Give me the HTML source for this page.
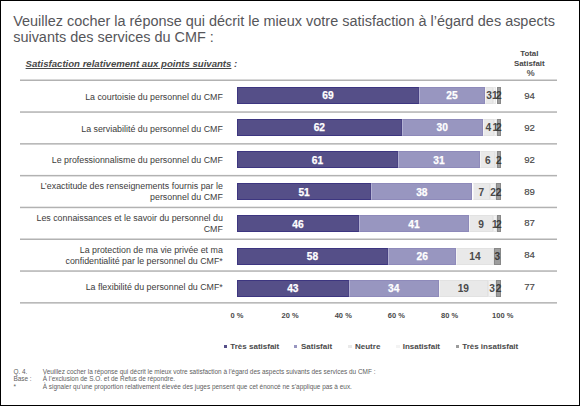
<!DOCTYPE html><html><head><meta charset="utf-8"><style>
html,body{margin:0;padding:0;}
body{width:580px;height:406px;position:relative;overflow:hidden;background:#fff;font-family:"Liberation Sans",sans-serif;}
#frame{position:absolute;left:0;top:0;width:578px;height:404px;border:1px solid #000;}
.seg{position:absolute;box-sizing:border-box;}
.ln{position:absolute;left:20px;width:536.5px;height:1px;background:#c4c4c4;}
</style></head><body><div id="frame"></div>
<div style="position:absolute;left:13.2px;top:12.92px;font-size:14.45px;line-height:17.34px;color:#56565a;font-weight:normal;font-style:normal;white-space:nowrap;">Veuillez cocher la réponse qui décrit le mieux votre satisfaction à l’égard des aspects</div>
<div style="position:absolute;left:13.2px;top:29.12px;font-size:14.45px;line-height:17.34px;color:#56565a;font-weight:normal;font-style:normal;white-space:nowrap;">suivants des services du CMF :</div>
<div style="position:absolute;left:25.6px;top:57.61px;font-size:9.6px;line-height:11.52px;color:#484848;font-weight:bold;font-style:italic;white-space:nowrap;"><span style="text-decoration:underline;">Satisfaction relativement aux points suivants</span> :</div>
<div style="position:absolute;left:499.29999999999995px;width:60px;text-align:center;top:48.92px;font-size:7.9px;line-height:9.48px;color:#484848;font-weight:bold;font-style:normal;white-space:nowrap;">Total</div>
<div style="position:absolute;left:499.29999999999995px;width:60px;text-align:center;top:58.52px;font-size:7.9px;line-height:9.48px;color:#484848;font-weight:bold;font-style:normal;white-space:nowrap;">Satisfait</div>
<div style="position:absolute;left:500.6px;width:60px;text-align:center;top:67.97px;font-size:8.8px;line-height:10.56px;color:#484848;font-weight:normal;font-style:normal;white-space:nowrap;-webkit-text-stroke:0.2px #484848;">%</div>
<div class="ln" style="top:79px;background:rgb(216,216,216);"></div>
<div class="ln" style="top:80px;background:rgb(178,178,178);"></div>
<div class="ln" style="top:111px;background:rgb(201,201,201);"></div>
<div class="ln" style="top:112px;background:rgb(193,193,193);"></div>
<div class="ln" style="top:143px;background:rgb(186,186,186);"></div>
<div class="ln" style="top:144px;background:rgb(209,209,209);"></div>
<div class="ln" style="top:174px;background:rgb(247,247,247);"></div>
<div class="ln" style="top:175px;background:rgb(178,178,178);"></div>
<div class="ln" style="top:176px;background:rgb(224,224,224);"></div>
<div class="ln" style="top:206px;background:rgb(232,232,232);"></div>
<div class="ln" style="top:207px;background:rgb(178,178,178);"></div>
<div class="ln" style="top:208px;background:rgb(240,240,240);"></div>
<div class="ln" style="top:238px;background:rgb(216,216,216);"></div>
<div class="ln" style="top:239px;background:rgb(178,178,178);"></div>
<div class="ln" style="top:270px;background:rgb(201,201,201);"></div>
<div class="ln" style="top:271px;background:rgb(193,193,193);"></div>
<div class="ln" style="top:302px;background:rgb(186,186,186);"></div>
<div class="ln" style="top:303px;background:rgb(209,209,209);"></div>
<div style="position:absolute;right:357.2px;top:91.90px;font-size:8.85px;line-height:10.62px;color:#3c3c3c;font-weight:normal;font-style:normal;white-space:nowrap;">La courtoisie du personnel du CMF</div>
<div class="seg" style="left:237.00px;top:86.70px;width:182.00px;height:17.0px;background:#554f88;border:1px solid #3d3680;border-right-color:#4a4384;"></div>
<div class="seg" style="left:419.00px;top:86.70px;width:66.00px;height:17.0px;background:#9896c0;border:1px solid #8e8aba;border-left-color:#b3b1d3;"></div>
<div class="seg" style="left:485.00px;top:86.70px;width:8.40px;height:17.0px;background:#e9e9e9;border:1px solid #e2e2e2;border-left-color:#f4f4f4;"></div>
<div class="seg" style="left:493.40px;top:86.70px;width:3.10px;height:17.0px;background:#f3f3f3;border:1px solid #e8e8e8;"></div>
<div class="seg" style="left:496.50px;top:86.70px;width:4.50px;height:17.0px;background:#9c9c9c;border:1px solid #888888;"></div>
<div style="position:absolute;left:313.0px;width:30px;text-align:center;top:90.25px;font-size:10.2px;line-height:12.24px;color:#ffffff;font-weight:bold;font-style:normal;white-space:nowrap;-webkit-text-stroke:0.25px #fff;">69</div>
<div style="position:absolute;left:437.0px;width:30px;text-align:center;top:90.25px;font-size:10.2px;line-height:12.24px;color:#ffffff;font-weight:bold;font-style:normal;white-space:nowrap;-webkit-text-stroke:0.25px #fff;">25</div>
<div style="position:absolute;left:474.2px;width:30px;text-align:center;top:90.25px;font-size:10.2px;line-height:12.24px;color:#4a4a4a;font-weight:bold;font-style:normal;white-space:nowrap;">3</div>
<div style="position:absolute;left:479.95px;width:30px;text-align:center;top:90.25px;font-size:10.2px;line-height:12.24px;color:#4a4a4a;font-weight:bold;font-style:normal;white-space:nowrap;">1</div>
<div style="position:absolute;left:483.75px;width:30px;text-align:center;top:90.25px;font-size:10.2px;line-height:12.24px;color:#3a3a3a;font-weight:bold;font-style:normal;white-space:nowrap;">2</div>
<div style="position:absolute;left:509.6px;width:40px;text-align:center;top:90.41px;font-size:9.6px;line-height:11.52px;color:#454545;font-weight:normal;font-style:normal;white-space:nowrap;-webkit-text-stroke:0.15px #454545;">94</div>
<div style="position:absolute;right:357.2px;top:123.56px;font-size:8.85px;line-height:10.62px;color:#3c3c3c;font-weight:normal;font-style:normal;white-space:nowrap;">La serviabilité du personnel du CMF</div>
<div class="seg" style="left:237.00px;top:118.87px;width:164.70px;height:17.0px;background:#554f88;border:1px solid #3d3680;border-right-color:#4a4384;"></div>
<div class="seg" style="left:401.70px;top:118.87px;width:81.00px;height:17.0px;background:#9896c0;border:1px solid #8e8aba;border-left-color:#b3b1d3;"></div>
<div class="seg" style="left:482.70px;top:118.87px;width:11.20px;height:17.0px;background:#e9e9e9;border:1px solid #e2e2e2;border-left-color:#f4f4f4;"></div>
<div class="seg" style="left:493.90px;top:118.87px;width:2.70px;height:17.0px;background:#f3f3f3;border:1px solid #e8e8e8;"></div>
<div class="seg" style="left:496.60px;top:118.87px;width:4.40px;height:17.0px;background:#9c9c9c;border:1px solid #888888;"></div>
<div style="position:absolute;left:304.35px;width:30px;text-align:center;top:122.42px;font-size:10.2px;line-height:12.24px;color:#ffffff;font-weight:bold;font-style:normal;white-space:nowrap;-webkit-text-stroke:0.25px #fff;">62</div>
<div style="position:absolute;left:427.2px;width:30px;text-align:center;top:122.42px;font-size:10.2px;line-height:12.24px;color:#ffffff;font-weight:bold;font-style:normal;white-space:nowrap;-webkit-text-stroke:0.25px #fff;">30</div>
<div style="position:absolute;left:473.29999999999995px;width:30px;text-align:center;top:122.42px;font-size:10.2px;line-height:12.24px;color:#4a4a4a;font-weight:bold;font-style:normal;white-space:nowrap;">4</div>
<div style="position:absolute;left:480.25px;width:30px;text-align:center;top:122.42px;font-size:10.2px;line-height:12.24px;color:#4a4a4a;font-weight:bold;font-style:normal;white-space:nowrap;">1</div>
<div style="position:absolute;left:483.8px;width:30px;text-align:center;top:122.42px;font-size:10.2px;line-height:12.24px;color:#3a3a3a;font-weight:bold;font-style:normal;white-space:nowrap;">2</div>
<div style="position:absolute;left:509.6px;width:40px;text-align:center;top:122.18px;font-size:9.6px;line-height:11.52px;color:#454545;font-weight:normal;font-style:normal;white-space:nowrap;-webkit-text-stroke:0.15px #454545;">92</div>
<div style="position:absolute;right:357.2px;top:155.22px;font-size:8.85px;line-height:10.62px;color:#3c3c3c;font-weight:normal;font-style:normal;white-space:nowrap;">Le professionnalisme du personnel du CMF</div>
<div class="seg" style="left:237.00px;top:151.04px;width:160.80px;height:17.0px;background:#554f88;border:1px solid #3d3680;border-right-color:#4a4384;"></div>
<div class="seg" style="left:397.80px;top:151.04px;width:82.40px;height:17.0px;background:#9896c0;border:1px solid #8e8aba;border-left-color:#b3b1d3;"></div>
<div class="seg" style="left:480.20px;top:151.04px;width:15.10px;height:17.0px;background:#e9e9e9;border:1px solid #e2e2e2;border-left-color:#f4f4f4;"></div>
<div class="seg" style="left:495.30px;top:151.04px;width:1.20px;height:17.0px;background:#f3f3f3;border:1px solid #e8e8e8;"></div>
<div class="seg" style="left:496.50px;top:151.04px;width:4.50px;height:17.0px;background:#9c9c9c;border:1px solid #888888;"></div>
<div style="position:absolute;left:302.4px;width:30px;text-align:center;top:154.59px;font-size:10.2px;line-height:12.24px;color:#ffffff;font-weight:bold;font-style:normal;white-space:nowrap;-webkit-text-stroke:0.25px #fff;">61</div>
<div style="position:absolute;left:424.0px;width:30px;text-align:center;top:154.59px;font-size:10.2px;line-height:12.24px;color:#ffffff;font-weight:bold;font-style:normal;white-space:nowrap;-webkit-text-stroke:0.25px #fff;">31</div>
<div style="position:absolute;left:472.75px;width:30px;text-align:center;top:154.59px;font-size:10.2px;line-height:12.24px;color:#4a4a4a;font-weight:bold;font-style:normal;white-space:nowrap;">6</div>
<div style="position:absolute;left:483.75px;width:30px;text-align:center;top:154.59px;font-size:10.2px;line-height:12.24px;color:#3a3a3a;font-weight:bold;font-style:normal;white-space:nowrap;">2</div>
<div style="position:absolute;left:509.6px;width:40px;text-align:center;top:153.95px;font-size:9.6px;line-height:11.52px;color:#454545;font-weight:normal;font-style:normal;white-space:nowrap;-webkit-text-stroke:0.15px #454545;">92</div>
<div style="position:absolute;right:357.2px;top:181.46px;font-size:8.85px;line-height:10.62px;color:#3c3c3c;font-weight:normal;font-style:normal;white-space:nowrap;">L’exactitude des renseignements fournis par le</div>
<div style="position:absolute;right:357.2px;top:192.36px;font-size:8.85px;line-height:10.62px;color:#3c3c3c;font-weight:normal;font-style:normal;white-space:nowrap;">personnel du CMF</div>
<div class="seg" style="left:237.00px;top:183.21px;width:134.10px;height:17.0px;background:#554f88;border:1px solid #3d3680;border-right-color:#4a4384;"></div>
<div class="seg" style="left:371.10px;top:183.21px;width:101.40px;height:17.0px;background:#9896c0;border:1px solid #8e8aba;border-left-color:#b3b1d3;"></div>
<div class="seg" style="left:472.50px;top:183.21px;width:17.50px;height:17.0px;background:#e9e9e9;border:1px solid #e2e2e2;border-left-color:#f4f4f4;"></div>
<div class="seg" style="left:490.00px;top:183.21px;width:6.30px;height:17.0px;background:#f3f3f3;border:1px solid #e8e8e8;"></div>
<div class="seg" style="left:496.30px;top:183.21px;width:4.70px;height:17.0px;background:#9c9c9c;border:1px solid #888888;"></div>
<div style="position:absolute;left:289.05px;width:30px;text-align:center;top:186.76px;font-size:10.2px;line-height:12.24px;color:#ffffff;font-weight:bold;font-style:normal;white-space:nowrap;-webkit-text-stroke:0.25px #fff;">51</div>
<div style="position:absolute;left:406.8px;width:30px;text-align:center;top:186.76px;font-size:10.2px;line-height:12.24px;color:#ffffff;font-weight:bold;font-style:normal;white-space:nowrap;-webkit-text-stroke:0.25px #fff;">38</div>
<div style="position:absolute;left:466.25px;width:30px;text-align:center;top:186.76px;font-size:10.2px;line-height:12.24px;color:#4a4a4a;font-weight:bold;font-style:normal;white-space:nowrap;">7</div>
<div style="position:absolute;left:478.15px;width:30px;text-align:center;top:186.76px;font-size:10.2px;line-height:12.24px;color:#4a4a4a;font-weight:bold;font-style:normal;white-space:nowrap;">2</div>
<div style="position:absolute;left:483.65px;width:30px;text-align:center;top:186.76px;font-size:10.2px;line-height:12.24px;color:#3a3a3a;font-weight:bold;font-style:normal;white-space:nowrap;">2</div>
<div style="position:absolute;left:509.6px;width:40px;text-align:center;top:185.72px;font-size:9.6px;line-height:11.52px;color:#454545;font-weight:normal;font-style:normal;white-space:nowrap;-webkit-text-stroke:0.15px #454545;">89</div>
<div style="position:absolute;right:357.2px;top:213.17px;font-size:8.85px;line-height:10.62px;color:#3c3c3c;font-weight:normal;font-style:normal;white-space:nowrap;">Les connaissances et le savoir du personnel du</div>
<div style="position:absolute;right:357.2px;top:224.07px;font-size:8.85px;line-height:10.62px;color:#3c3c3c;font-weight:normal;font-style:normal;white-space:nowrap;">CMF</div>
<div class="seg" style="left:237.00px;top:215.38px;width:121.90px;height:17.0px;background:#554f88;border:1px solid #3d3680;border-right-color:#4a4384;"></div>
<div class="seg" style="left:358.90px;top:215.38px;width:110.10px;height:17.0px;background:#9896c0;border:1px solid #8e8aba;border-left-color:#b3b1d3;"></div>
<div class="seg" style="left:469.00px;top:215.38px;width:24.00px;height:17.0px;background:#e9e9e9;border:1px solid #e2e2e2;border-left-color:#f4f4f4;"></div>
<div class="seg" style="left:493.00px;top:215.38px;width:3.60px;height:17.0px;background:#f3f3f3;border:1px solid #e8e8e8;"></div>
<div class="seg" style="left:496.60px;top:215.38px;width:4.40px;height:17.0px;background:#9c9c9c;border:1px solid #888888;"></div>
<div style="position:absolute;left:282.95px;width:30px;text-align:center;top:218.93px;font-size:10.2px;line-height:12.24px;color:#ffffff;font-weight:bold;font-style:normal;white-space:nowrap;-webkit-text-stroke:0.25px #fff;">46</div>
<div style="position:absolute;left:398.95px;width:30px;text-align:center;top:218.93px;font-size:10.2px;line-height:12.24px;color:#ffffff;font-weight:bold;font-style:normal;white-space:nowrap;-webkit-text-stroke:0.25px #fff;">41</div>
<div style="position:absolute;left:466.0px;width:30px;text-align:center;top:218.93px;font-size:10.2px;line-height:12.24px;color:#4a4a4a;font-weight:bold;font-style:normal;white-space:nowrap;">9</div>
<div style="position:absolute;left:479.8px;width:30px;text-align:center;top:218.93px;font-size:10.2px;line-height:12.24px;color:#4a4a4a;font-weight:bold;font-style:normal;white-space:nowrap;">1</div>
<div style="position:absolute;left:483.8px;width:30px;text-align:center;top:218.93px;font-size:10.2px;line-height:12.24px;color:#3a3a3a;font-weight:bold;font-style:normal;white-space:nowrap;">2</div>
<div style="position:absolute;left:509.6px;width:40px;text-align:center;top:217.49px;font-size:9.6px;line-height:11.52px;color:#454545;font-weight:normal;font-style:normal;white-space:nowrap;-webkit-text-stroke:0.15px #454545;">87</div>
<div style="position:absolute;right:357.2px;top:244.88px;font-size:8.85px;line-height:10.62px;color:#3c3c3c;font-weight:normal;font-style:normal;white-space:nowrap;">La protection de ma vie privée et ma</div>
<div style="position:absolute;right:357.2px;top:255.78px;font-size:8.85px;line-height:10.62px;color:#3c3c3c;font-weight:normal;font-style:normal;white-space:nowrap;">confidentialité par le personnel du CMF*</div>
<div class="seg" style="left:237.00px;top:247.55px;width:151.00px;height:17.0px;background:#554f88;border:1px solid #3d3680;border-right-color:#4a4384;"></div>
<div class="seg" style="left:388.00px;top:247.55px;width:68.30px;height:17.0px;background:#9896c0;border:1px solid #8e8aba;border-left-color:#b3b1d3;"></div>
<div class="seg" style="left:456.30px;top:247.55px;width:37.30px;height:17.0px;background:#e9e9e9;border:1px solid #e2e2e2;border-left-color:#f4f4f4;"></div>
<div class="seg" style="left:493.90px;top:247.55px;width:7.10px;height:17.0px;background:#9c9c9c;border:1px solid #888888;"></div>
<div style="position:absolute;left:297.5px;width:30px;text-align:center;top:251.10px;font-size:10.2px;line-height:12.24px;color:#ffffff;font-weight:bold;font-style:normal;white-space:nowrap;-webkit-text-stroke:0.25px #fff;">58</div>
<div style="position:absolute;left:407.15px;width:30px;text-align:center;top:251.10px;font-size:10.2px;line-height:12.24px;color:#ffffff;font-weight:bold;font-style:normal;white-space:nowrap;-webkit-text-stroke:0.25px #fff;">26</div>
<div style="position:absolute;left:459.95000000000005px;width:30px;text-align:center;top:251.10px;font-size:10.2px;line-height:12.24px;color:#4a4a4a;font-weight:bold;font-style:normal;white-space:nowrap;">14</div>
<div style="position:absolute;left:482.45px;width:30px;text-align:center;top:251.10px;font-size:10.2px;line-height:12.24px;color:#3a3a3a;font-weight:bold;font-style:normal;white-space:nowrap;">3</div>
<div style="position:absolute;left:509.6px;width:40px;text-align:center;top:249.26px;font-size:9.6px;line-height:11.52px;color:#454545;font-weight:normal;font-style:normal;white-space:nowrap;-webkit-text-stroke:0.15px #454545;">84</div>
<div style="position:absolute;right:357.2px;top:281.86px;font-size:8.85px;line-height:10.62px;color:#3c3c3c;font-weight:normal;font-style:normal;white-space:nowrap;">La flexibilité du personnel du CMF*</div>
<div class="seg" style="left:237.00px;top:279.72px;width:111.60px;height:17.0px;background:#554f88;border:1px solid #3d3680;border-right-color:#4a4384;"></div>
<div class="seg" style="left:348.60px;top:279.72px;width:90.20px;height:17.0px;background:#9896c0;border:1px solid #8e8aba;border-left-color:#b3b1d3;"></div>
<div class="seg" style="left:438.80px;top:279.72px;width:49.00px;height:17.0px;background:#e9e9e9;border:1px solid #e2e2e2;border-left-color:#f4f4f4;"></div>
<div class="seg" style="left:487.80px;top:279.72px;width:8.40px;height:17.0px;background:#f3f3f3;border:1px solid #e8e8e8;"></div>
<div class="seg" style="left:496.20px;top:279.72px;width:4.80px;height:17.0px;background:#9c9c9c;border:1px solid #888888;"></div>
<div style="position:absolute;left:277.8px;width:30px;text-align:center;top:283.27px;font-size:10.2px;line-height:12.24px;color:#ffffff;font-weight:bold;font-style:normal;white-space:nowrap;-webkit-text-stroke:0.25px #fff;">43</div>
<div style="position:absolute;left:378.70000000000005px;width:30px;text-align:center;top:283.27px;font-size:10.2px;line-height:12.24px;color:#ffffff;font-weight:bold;font-style:normal;white-space:nowrap;-webkit-text-stroke:0.25px #fff;">34</div>
<div style="position:absolute;left:448.3px;width:30px;text-align:center;top:283.27px;font-size:10.2px;line-height:12.24px;color:#4a4a4a;font-weight:bold;font-style:normal;white-space:nowrap;">19</div>
<div style="position:absolute;left:477.0px;width:30px;text-align:center;top:283.27px;font-size:10.2px;line-height:12.24px;color:#4a4a4a;font-weight:bold;font-style:normal;white-space:nowrap;">3</div>
<div style="position:absolute;left:483.6px;width:30px;text-align:center;top:283.27px;font-size:10.2px;line-height:12.24px;color:#3a3a3a;font-weight:bold;font-style:normal;white-space:nowrap;">2</div>
<div style="position:absolute;left:509.6px;width:40px;text-align:center;top:281.03px;font-size:9.6px;line-height:11.52px;color:#454545;font-weight:normal;font-style:normal;white-space:nowrap;-webkit-text-stroke:0.15px #454545;">77</div>
<div style="position:absolute;left:217.0px;width:40px;text-align:center;top:311.10px;font-size:7.5px;line-height:9.0px;color:#4a4a4a;font-weight:bold;font-style:normal;white-space:nowrap;">0 %</div>
<div style="position:absolute;left:270.14px;width:40px;text-align:center;top:311.10px;font-size:7.5px;line-height:9.0px;color:#4a4a4a;font-weight:bold;font-style:normal;white-space:nowrap;">20 %</div>
<div style="position:absolute;left:323.28000000000003px;width:40px;text-align:center;top:311.10px;font-size:7.5px;line-height:9.0px;color:#4a4a4a;font-weight:bold;font-style:normal;white-space:nowrap;">40 %</div>
<div style="position:absolute;left:376.42px;width:40px;text-align:center;top:311.10px;font-size:7.5px;line-height:9.0px;color:#4a4a4a;font-weight:bold;font-style:normal;white-space:nowrap;">60 %</div>
<div style="position:absolute;left:429.56px;width:40px;text-align:center;top:311.10px;font-size:7.5px;line-height:9.0px;color:#4a4a4a;font-weight:bold;font-style:normal;white-space:nowrap;">80 %</div>
<div style="position:absolute;left:482.7px;width:40px;text-align:center;top:311.10px;font-size:7.5px;line-height:9.0px;color:#4a4a4a;font-weight:bold;font-style:normal;white-space:nowrap;">100 %</div>
<div class="seg" style="left:223.8px;top:345.1px;width:3.3px;height:3.3px;background:#554f88;"></div>
<div style="position:absolute;left:230.3px;top:342.13px;font-size:8.0px;line-height:9.6px;color:#4a4a4a;font-weight:bold;font-style:normal;white-space:nowrap;">Très satisfait</div>
<div class="seg" style="left:294.1px;top:345.1px;width:3.3px;height:3.3px;background:#9896c0;"></div>
<div style="position:absolute;left:301.0px;top:342.13px;font-size:8.0px;line-height:9.6px;color:#4a4a4a;font-weight:bold;font-style:normal;white-space:nowrap;">Satisfait</div>
<div class="seg" style="left:348.40000000000003px;top:345.1px;width:3.3px;height:3.3px;background:#e9e9e9;"></div>
<div style="position:absolute;left:355.0px;top:342.13px;font-size:8.0px;line-height:9.6px;color:#4a4a4a;font-weight:bold;font-style:normal;white-space:nowrap;">Neutre</div>
<div class="seg" style="left:396.40000000000003px;top:345.1px;width:3.3px;height:3.3px;background:#f3f3f3;"></div>
<div style="position:absolute;left:402.7px;top:342.13px;font-size:8.0px;line-height:9.6px;color:#4a4a4a;font-weight:bold;font-style:normal;white-space:nowrap;">Insatisfait</div>
<div class="seg" style="left:455.8px;top:345.1px;width:3.3px;height:3.3px;background:#9c9c9c;"></div>
<div style="position:absolute;left:462.2px;top:342.13px;font-size:8.0px;line-height:9.6px;color:#4a4a4a;font-weight:bold;font-style:normal;white-space:nowrap;">Très insatisfait</div>
<div style="position:absolute;left:13.4px;top:367.60px;font-size:6.45px;line-height:7.74px;color:#606060;font-weight:normal;font-style:normal;white-space:nowrap;">Q. 4.</div>
<div style="position:absolute;left:42.7px;top:367.60px;font-size:6.45px;line-height:7.74px;color:#606060;font-weight:normal;font-style:normal;white-space:nowrap;">Veuillez cocher la réponse qui décrit le mieux votre satisfaction à l’égard des aspects suivants des services du CMF :</div>
<div style="position:absolute;left:13.4px;top:375.10px;font-size:6.45px;line-height:7.74px;color:#606060;font-weight:normal;font-style:normal;white-space:nowrap;">Base :</div>
<div style="position:absolute;left:42.7px;top:375.10px;font-size:6.45px;line-height:7.74px;color:#606060;font-weight:normal;font-style:normal;white-space:nowrap;">À l’exclusion de S.O. et de Refus de répondre.</div>
<div style="position:absolute;left:13.4px;top:382.60px;font-size:6.45px;line-height:7.74px;color:#606060;font-weight:normal;font-style:normal;white-space:nowrap;">*</div>
<div style="position:absolute;left:42.7px;top:382.60px;font-size:6.45px;line-height:7.74px;color:#606060;font-weight:normal;font-style:normal;white-space:nowrap;">À signaler qu’une proportion relativement élevée des juges pensent que cet énoncé ne s’applique pas à eux.</div>
</body></html>
